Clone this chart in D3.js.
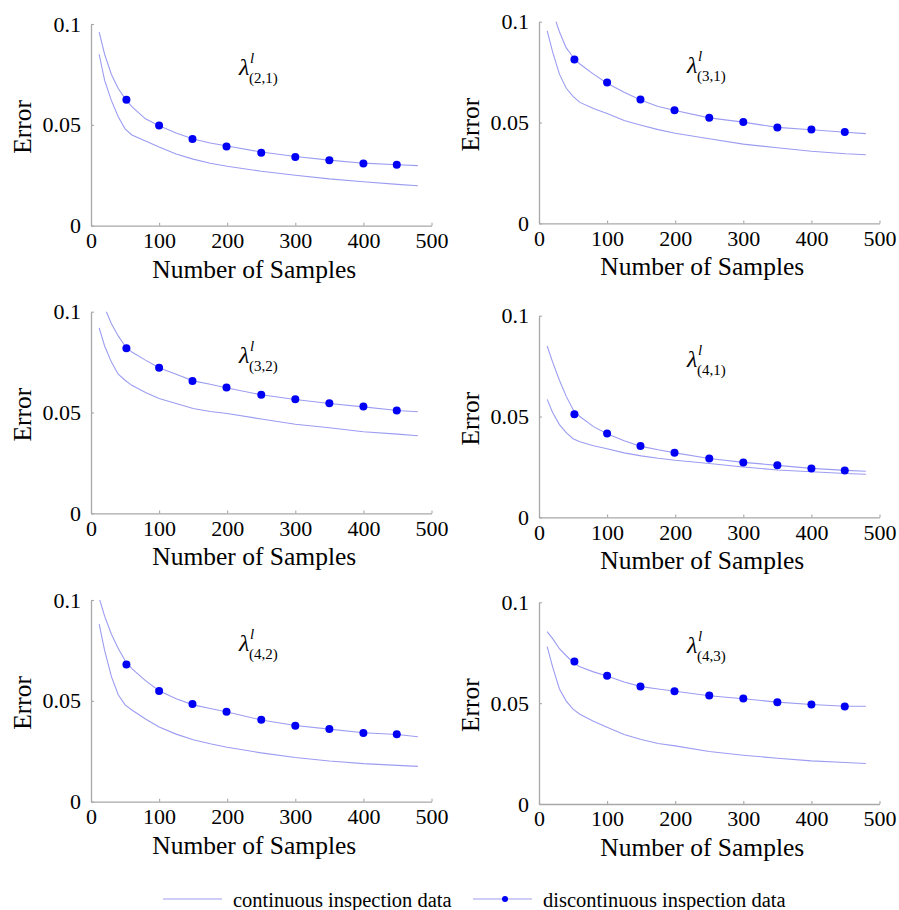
<!DOCTYPE html>
<html>
<head>
<meta charset="utf-8">
<script src="https://cdn.jsdelivr.net/npm/d3@7/dist/d3.min.js"></script>
<style>
  html, body { margin: 0; padding: 0; background: #fff; }
  svg { display: block; }
  svg text { font-family: "Liberation Serif", "Times New Roman", Tinos, "DejaVu Serif", serif; fill: #000; }
</style>
</head>
<body>
<svg id="fig" width="899" height="910"></svg>
<script>
// Sample sizes at which the error curves are evaluated
const sampleX = [12, 20, 30, 40, 50, 60, 80, 100, 125, 150, 175, 200, 250, 300, 350, 400, 450, 480];
// Sample sizes of the marked points on the discontinuous curves
const markerX = [52, 100, 149, 199, 250, 300, 350, 400, 449];

// Panel subscripts for lambda^l_(i,j)
const panelLabels = ["(2,1)", "(3,1)", "(3,2)", "(4,1)", "(4,2)", "(4,3)"];

// Continuous inspection data, one row per panel
const continuousErr = [
  [0.085, 0.072, 0.062, 0.054, 0.048, 0.045, 0.042, 0.039, 0.0355, 0.033, 0.031, 0.0295, 0.027, 0.025, 0.0232, 0.0218, 0.0205, 0.0198],
  [0.0955, 0.085, 0.074, 0.067, 0.063, 0.060, 0.057, 0.0545, 0.051, 0.0487, 0.0465, 0.0447, 0.042, 0.0393, 0.0375, 0.0358, 0.0345, 0.034],
  [0.092, 0.083, 0.075, 0.069, 0.066, 0.0635, 0.060, 0.057, 0.0545, 0.052, 0.0505, 0.0495, 0.0468, 0.0442, 0.0425, 0.0405, 0.0393, 0.0385],
  [0.0585, 0.052, 0.046, 0.042, 0.039, 0.0375, 0.0355, 0.034, 0.032, 0.0305, 0.0293, 0.0283, 0.0267, 0.025, 0.0235, 0.0226, 0.0218, 0.0214],
  [0.088, 0.075, 0.062, 0.053, 0.048, 0.0455, 0.041, 0.037, 0.0335, 0.0307, 0.0287, 0.027, 0.0242, 0.0219, 0.0202, 0.0189, 0.018, 0.0175],
  [0.078, 0.068, 0.057, 0.051, 0.047, 0.0445, 0.041, 0.038, 0.0345, 0.032, 0.030, 0.0288, 0.026, 0.0242, 0.0227, 0.0214, 0.0206, 0.0201]
];

// Discontinuous inspection data (curve), one row per panel
const discontinuousErr = [
  [0.096, 0.085, 0.075, 0.068, 0.063, 0.059, 0.053, 0.0495, 0.046, 0.043, 0.041, 0.0395, 0.0365, 0.0343, 0.0325, 0.031, 0.0302, 0.0298],
  [0.115, 0.105, 0.095, 0.087, 0.0825, 0.079, 0.074, 0.0695, 0.065, 0.061, 0.058, 0.056, 0.0523, 0.0502, 0.0476, 0.0464, 0.0452, 0.0445],
  [0.112, 0.102, 0.094, 0.088, 0.083, 0.080, 0.076, 0.0722, 0.069, 0.0657, 0.064, 0.0622, 0.0588, 0.0565, 0.0545, 0.0528, 0.051, 0.0504],
  [0.085, 0.077, 0.068, 0.060, 0.0535, 0.050, 0.045, 0.0415, 0.038, 0.0352, 0.0335, 0.032, 0.0292, 0.0273, 0.0258, 0.0243, 0.0233, 0.0229],
  [0.101, 0.092, 0.083, 0.076, 0.070, 0.066, 0.060, 0.055, 0.051, 0.048, 0.0462, 0.0445, 0.0405, 0.0378, 0.036, 0.0342, 0.0333, 0.0322],
  [0.0855, 0.082, 0.077, 0.0735, 0.0703, 0.068, 0.0655, 0.0635, 0.0605, 0.0582, 0.057, 0.0559, 0.0537, 0.0522, 0.0505, 0.0493, 0.0485, 0.0485]
];

// Discontinuous inspection data (marked points), one row per panel
const discontinuousPts = [
  [0.0625, 0.0497, 0.0430, 0.0393, 0.0362, 0.0340, 0.0324, 0.0308, 0.0302],
  [0.0813, 0.0698, 0.0614, 0.0561, 0.0524, 0.0503, 0.0476, 0.0466, 0.0453],
  [0.0819, 0.0722, 0.0657, 0.0624, 0.0588, 0.0566, 0.0546, 0.0530, 0.0510],
  [0.0512, 0.0416, 0.0354, 0.0321, 0.0292, 0.0272, 0.0258, 0.0242, 0.0233],
  [0.0680, 0.0549, 0.0484, 0.0446, 0.0406, 0.0377, 0.0360, 0.0341, 0.0334],
  [0.0707, 0.0636, 0.0582, 0.0559, 0.0538, 0.0523, 0.0505, 0.0493, 0.0483]
];

const xTicks = [0, 100, 200, 300, 400, 500];
const yTicks = [0, 0.05, 0.1];
const yTickLabels = ["0", "0.05", "0.1"];
const legendLabels = ["continuous inspection data", "discontinuous inspection data"];

const serif = '"Liberation Serif", "Times New Roman", Tinos, "DejaVu Serif", serif';
const lineColor = "#9c9cf2";
const dotColor = "#0000f5";
const axisColor = "#a8a8a8";

// Layout of the 3x2 grid of panels
const colLeft = [91, 539];
const rowTop = [[24, 21.7], [311.7, 315.7], [600, 602.3]];
const plotW = 340.5, plotH = 201.7;

const svg = d3.select("#fig");

panelLabels.forEach((lab, i) => {
  const col = i % 2, row = Math.floor(i / 2);
  const g = svg.append("g")
    .attr("transform", `translate(${colLeft[col]},${rowTop[row][col]})`);

  const x = d3.scaleLinear().domain([0, 500]).range([0, plotW]);
  const y = d3.scaleLinear().domain([0, 0.1]).range([plotH, 0]);

  const clipId = "clip" + i;
  g.append("clipPath").attr("id", clipId)
    .append("rect").attr("x", 0).attr("y", 0).attr("width", plotW).attr("height", plotH);

  // Axes: ticks point into the plot area
  const xAxis = d3.axisBottom(x).tickValues(xTicks).tickSizeInner(-3).tickSizeOuter(0).tickPadding(6.5)
    .tickFormat(d3.format("d"));
  const yAxis = d3.axisLeft(y).tickValues(yTicks).tickSizeInner(-3).tickSizeOuter(0).tickPadding(10)
    .tickFormat((d, k) => yTickLabels[k]);

  const gx = g.append("g").attr("transform", `translate(0,${plotH})`).call(xAxis);
  const gy = g.append("g").call(yAxis);
  [gx, gy].forEach(a => {
    a.attr("font-family", serif).attr("font-size", 22);
    a.select(".domain").attr("stroke", axisColor).attr("stroke-width", 1.3);
    a.selectAll(".tick line").attr("stroke", axisColor).attr("stroke-width", 1.1);
    a.selectAll(".tick text")
      .style("font-family", serif)
      .style("font-size", "22px")
      .attr("fill", "#000");
  });

  // Axis titles
  g.append("text")
    .attr("x", plotW / 2 - 7).attr("y", plotH + 52)
    .attr("text-anchor", "middle")
    .style("font-family", serif)
    .style("font-size", "25.5px")
    .text("Number of Samples");
  g.append("text")
    .attr("transform", `translate(-60,${plotH / 2 + 2}) rotate(-90)`)
    .attr("text-anchor", "middle")
    .style("font-family", serif)
    .style("font-size", "25.5px")
    .text("Error");

  // Curves
  const line = d3.line().x(d => x(d[0])).y(d => y(d[1]));
  const plot = g.append("g").attr("clip-path", `url(#${clipId})`);
  [continuousErr[i], discontinuousErr[i]].forEach(vals => {
    plot.append("path")
      .datum(sampleX.map((sx, k) => [sx, vals[k]]))
      .attr("fill", "none")
      .attr("stroke", lineColor)
      .attr("stroke-width", 1.1)
      .attr("d", line);
  });

  // Marked points on the discontinuous curve
  plot.selectAll("circle")
    .data(markerX.map((mx, k) => [mx, discontinuousPts[i][k]]))
    .join("circle")
    .attr("cx", d => x(d[0]))
    .attr("cy", d => y(d[1]))
    .attr("r", 4)
    .attr("fill", dotColor);

  // Panel label lambda^l_(i,j): symbol, superscript and subscript
  const lg = g.append("g").attr("transform", "translate(148,51)").style("font-family", serif);
  lg.append("text").style("font-style", "italic").style("font-size", "24px").text("λ");
  lg.append("text").attr("x", 11).attr("y", -12)
    .style("font-style", "italic").style("font-size", "15px").text("l");
  lg.append("text").attr("x", 10).attr("y", 8)
    .style("font-size", "15px").text(lab);
});

// Legend
const leg = svg.append("g").style("font-family", serif);
leg.append("line").attr("x1", 163).attr("x2", 222).attr("y1", 899).attr("y2", 899)
  .attr("stroke", lineColor).attr("stroke-width", 1.1);
leg.append("text").attr("x", 233).attr("y", 907).style("font-size", "20.5px").text(legendLabels[0]);
leg.append("line").attr("x1", 473).attr("x2", 532).attr("y1", 899).attr("y2", 899)
  .attr("stroke", lineColor).attr("stroke-width", 1.1);
leg.append("circle").attr("cx", 505).attr("cy", 899).attr("r", 3).attr("fill", dotColor);
leg.append("text").attr("x", 543).attr("y", 907).style("font-size", "20.5px").text(legendLabels[1]);
</script>
</body>
</html>
